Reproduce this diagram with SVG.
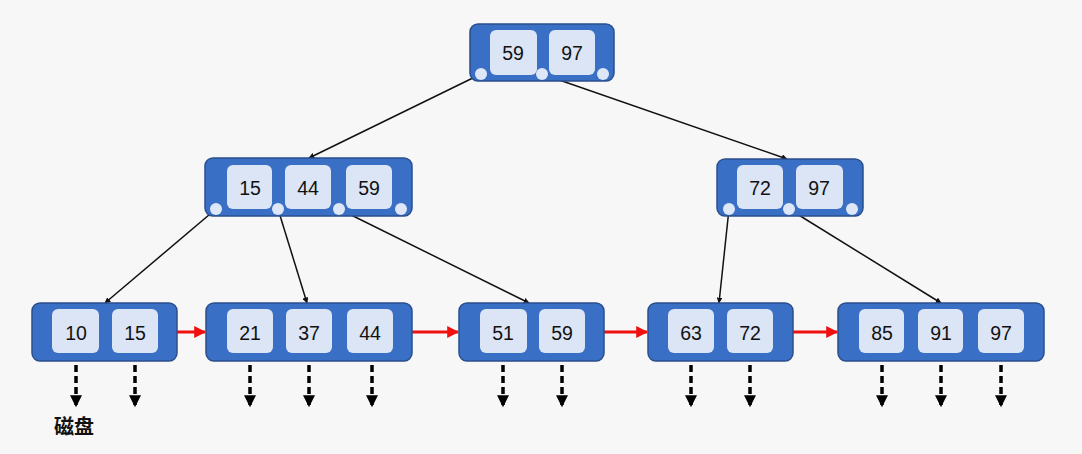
<svg xmlns="http://www.w3.org/2000/svg" width="1082" height="454" viewBox="0 0 1082 454">
<defs>
<style>
.node{fill:#3a6fc6;stroke:#2b4f8c;stroke-width:1.5}
.key{fill:#dbe5f5}
.dot{fill:#dde7f7}
.t{font-family:"Liberation Sans",Arial,sans-serif;font-size:19.5px;fill:#111;text-anchor:middle;dominant-baseline:central}
.edge{stroke:#111;stroke-width:1.5;fill:none}
.red{stroke:#f01010;stroke-width:3;fill:none}
.disk{stroke:#000;stroke-width:3.5;stroke-dasharray:7,4;fill:none}
</style>
<marker id="ab" viewBox="0 0 10 10" refX="9" refY="5" markerWidth="6" markerHeight="6" orient="auto" markerUnits="userSpaceOnUse"><path d="M0,0 L10,5 L0,10 z" fill="#111"/></marker>
<marker id="ar" viewBox="0 0 10 10" refX="9" refY="5" markerWidth="12" markerHeight="12" orient="auto" markerUnits="userSpaceOnUse"><path d="M0,0 L10,5 L0,10 z" fill="#f01010"/></marker>
<marker id="ad" viewBox="0 0 10 10" refX="9" refY="5" markerWidth="13" markerHeight="12" orient="auto" markerUnits="userSpaceOnUse"><path d="M0,0 L10,5 L0,10 z" fill="#000"/></marker>
</defs>
<rect width="1082" height="454" fill="#f7f7f7"/>

<g id="connectors">
<line class="edge" x1="481" y1="74" x2="309" y2="158" marker-end="url(#ab)"/>
<line class="edge" x1="542" y1="74" x2="787" y2="159" marker-end="url(#ab)"/>
<line class="edge" x1="216" y1="209" x2="105" y2="303" marker-end="url(#ab)"/>
<line class="edge" x1="278" y1="209" x2="307" y2="303" marker-end="url(#ab)"/>
<line class="edge" x1="339" y1="209" x2="529" y2="303" marker-end="url(#ab)"/>
<line class="edge" x1="729" y1="209" x2="719" y2="303" marker-end="url(#ab)"/>
<line class="edge" x1="789" y1="209" x2="941" y2="303" marker-end="url(#ab)"/>
<line class="red" x1="177" y1="332" x2="205" y2="332" marker-end="url(#ar)"/>
<line class="red" x1="412" y1="332" x2="458" y2="332" marker-end="url(#ar)"/>
<line class="red" x1="604" y1="332" x2="647" y2="332" marker-end="url(#ar)"/>
<line class="red" x1="793" y1="332" x2="837" y2="332" marker-end="url(#ar)"/>
<g class="disk">
<line x1="76" y1="354" x2="76" y2="406" marker-end="url(#ad)"/>
<line x1="135" y1="354" x2="135" y2="406" marker-end="url(#ad)"/>
<line x1="250" y1="354" x2="250" y2="406" marker-end="url(#ad)"/>
<line x1="309" y1="354" x2="309" y2="406" marker-end="url(#ad)"/>
<line x1="372" y1="354" x2="372" y2="406" marker-end="url(#ad)"/>
<line x1="503" y1="354" x2="503" y2="406" marker-end="url(#ad)"/>
<line x1="562" y1="354" x2="562" y2="406" marker-end="url(#ad)"/>
<line x1="691" y1="354" x2="691" y2="406" marker-end="url(#ad)"/>
<line x1="750" y1="354" x2="750" y2="406" marker-end="url(#ad)"/>
<line x1="882" y1="354" x2="882" y2="406" marker-end="url(#ad)"/>
<line x1="941" y1="354" x2="941" y2="406" marker-end="url(#ad)"/>
<line x1="1001" y1="354" x2="1001" y2="406" marker-end="url(#ad)"/>
</g>
</g>

<g id="root">
<rect class="node" x="470" y="24" width="144" height="57" rx="8"/>
<rect class="key" x="490" y="30" width="47" height="45" rx="6"/>
<rect class="key" x="549" y="30" width="46" height="45" rx="6"/>
<text class="t" x="513" y="53">59</text>
<text class="t" x="572" y="53">97</text>
<circle class="dot" cx="481" cy="74" r="6"/>
<circle class="dot" cx="542" cy="74" r="6"/>
<circle class="dot" cx="603" cy="74" r="6"/>
</g>

<g id="inner-left">
<rect class="node" x="205" y="158" width="207" height="58" rx="8"/>
<rect class="key" x="227" y="165" width="45" height="44" rx="6"/>
<rect class="key" x="285" y="165" width="46" height="44" rx="6"/>
<rect class="key" x="346" y="165" width="46" height="44" rx="6"/>
<text class="t" x="250" y="188">15</text>
<text class="t" x="308" y="188">44</text>
<text class="t" x="369" y="188">59</text>
<circle class="dot" cx="216" cy="209" r="6"/>
<circle class="dot" cx="278" cy="209" r="6"/>
<circle class="dot" cx="339" cy="209" r="6"/>
<circle class="dot" cx="401" cy="209" r="6"/>
</g>

<g id="inner-right">
<rect class="node" x="717" y="159" width="146" height="57" rx="8"/>
<rect class="key" x="737" y="165" width="46" height="44" rx="6"/>
<rect class="key" x="796" y="165" width="47" height="44" rx="6"/>
<text class="t" x="760" y="188">72</text>
<text class="t" x="819" y="188">97</text>
<circle class="dot" cx="729" cy="209" r="6"/>
<circle class="dot" cx="789" cy="209" r="6"/>
<circle class="dot" cx="852" cy="209" r="6"/>
</g>

<g id="leaf1">
<rect class="node" x="32" y="303" width="145" height="58" rx="8"/>
<rect class="key" x="52" y="309" width="47" height="44" rx="6"/>
<rect class="key" x="112" y="309" width="46" height="44" rx="6"/>
<text class="t" x="76" y="333">10</text>
<text class="t" x="135" y="333">15</text>
</g>

<g id="leaf2">
<rect class="node" x="206" y="303" width="206" height="58" rx="8"/>
<rect class="key" x="227" y="309" width="46" height="44" rx="6"/>
<rect class="key" x="286" y="309" width="46" height="44" rx="6"/>
<rect class="key" x="347" y="309" width="46" height="44" rx="6"/>
<text class="t" x="250" y="333">21</text>
<text class="t" x="309" y="333">37</text>
<text class="t" x="370" y="333">44</text>
</g>

<g id="leaf3">
<rect class="node" x="459" y="303" width="145" height="58" rx="8"/>
<rect class="key" x="480" y="309" width="47" height="44" rx="6"/>
<rect class="key" x="539" y="309" width="46" height="44" rx="6"/>
<text class="t" x="503" y="333">51</text>
<text class="t" x="562" y="333">59</text>
</g>

<g id="leaf4">
<rect class="node" x="648" y="303" width="145" height="58" rx="8"/>
<rect class="key" x="668" y="309" width="46" height="44" rx="6"/>
<rect class="key" x="727" y="309" width="46" height="44" rx="6"/>
<text class="t" x="691" y="333">63</text>
<text class="t" x="750" y="333">72</text>
</g>

<g id="leaf5">
<rect class="node" x="838" y="303" width="206" height="58" rx="8"/>
<rect class="key" x="859" y="309" width="45" height="44" rx="6"/>
<rect class="key" x="918" y="309" width="45" height="44" rx="6"/>
<rect class="key" x="978" y="309" width="46" height="44" rx="6"/>
<text class="t" x="882" y="333">85</text>
<text class="t" x="941" y="333">91</text>
<text class="t" x="1001" y="333">97</text>
</g>

<g id="disk-label">
<text x="74" y="425" font-family="'Noto Sans CJK SC',sans-serif" font-size="20" font-weight="bold" fill="#111" text-anchor="middle" dominant-baseline="central">磁盘</text>
</g>
</svg>
